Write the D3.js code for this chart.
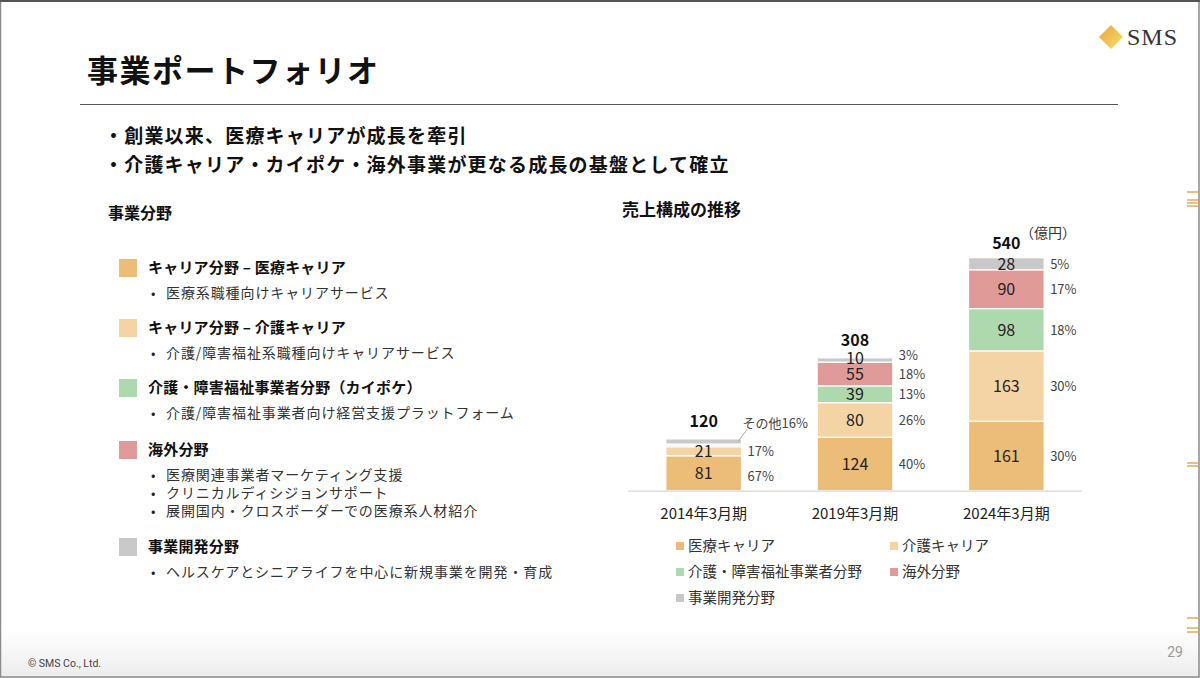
<!DOCTYPE html>
<html>
<head>
<meta charset="utf-8">
<script src="https://cdn.jsdelivr.net/npm/d3@7"></script>
<style>
  body { margin: 0; background: #fff; }
  svg { display: block; font-family: "Noto Sans CJK JP", "Noto Sans", sans-serif; }
</style>
</head>
<body>
<svg id="chart" width="1200" height="678"></svg>
<script>
// periods and series (億円)
const periods = ["2014年3月期", "2019年3月期", "2024年3月期"];
const seriesNames = ["医療キャリア", "介護キャリア", "介護・障害福祉事業者分野", "海外分野", "事業開発分野"];
const seriesColors = ["#ECBD78", "#F4D4A4", "#AED8AE", "#E09A97", "#C9C9C9"];
const medical = [81, 124, 161];
const nursing = [21, 80, 163];
const kaipoke = [4, 39, 98];
const overseas = [2, 55, 90];
const newBiz = [12, 10, 28];
const totals = [120, 308, 540];
// share labels shown next to the bars (null = not shown)
const sharePct = [
  [67, 17, null, null, null],
  [40, 26, 13, 18, 3],
  [30, 30, 18, 17, 5]
];
const othersLabel = "その他16%"; // 2014 only

// left side description list
const segments = [
  { title: "キャリア分野 – 医療キャリア", items: ["医療系職種向けキャリアサービス"] },
  { title: "キャリア分野 – 介護キャリア", items: ["介護/障害福祉系職種向けキャリアサービス"] },
  { title: "介護・障害福祉事業者分野（カイポケ）", items: ["介護/障害福祉事業者向け経営支援プラットフォーム"] },
  { title: "海外分野", items: ["医療関連事業者マーケティング支援", "クリニカルディシジョンサポート", "展開国内・クロスボーダーでの医療系人材紹介"] },
  { title: "事業開発分野", items: ["ヘルスケアとシニアライフを中心に新規事業を開発・育成"] }
];

const svg = d3.select("#chart");

/////////////// slide frame ///////////////
const defs = svg.append("defs");
const fade = defs.append("linearGradient").attr("id", "bottomFade")
  .attr("x1", 0).attr("y1", 0).attr("x2", 0).attr("y2", 1);
fade.append("stop").attr("offset", "0%").attr("stop-color", "#fff");
fade.append("stop").attr("offset", "100%").attr("stop-color", "#ececec");
svg.append("rect").attr("x", 0).attr("y", 630).attr("width", 1200).attr("height", 48).attr("fill", "url(#bottomFade)");

const logoGrad = defs.append("linearGradient").attr("id", "logoGrad")
  .attr("x1", 0).attr("y1", 0).attr("x2", 1).attr("y2", 1);
logoGrad.append("stop").attr("offset", "0%").attr("stop-color", "#E9A43C");
logoGrad.append("stop").attr("offset", "100%").attr("stop-color", "#F7DF6A");

svg.append("rect").attr("x", 0.5).attr("y", 0.5).attr("width", 1198.5).attr("height", 676.5)
  .attr("fill", "none").attr("stroke", "#8a8a8a").attr("stroke-width", 1.5);
svg.append("line").attr("x1", 0).attr("x2", 1200).attr("y1", 1).attr("y2", 1)
  .attr("stroke", "#555").attr("stroke-width", 2);

// logo
svg.append("path").attr("d", "M1111,25 L1123,37 L1111,49 L1099,37 Z").attr("fill", "url(#logoGrad)");
svg.append("text").attr("x", 1127).attr("y", 45).attr("font-family", "Liberation Serif, DejaVu Serif, serif")
  .attr("font-size", 24).attr("letter-spacing", 1).attr("fill", "#333").text("SMS");

// orange marks on the right edge
[192, 200, 203, 206, 463, 466, 618, 628, 632].forEach(y => {
  svg.append("line").attr("x1", 1187).attr("x2", 1199).attr("y1", y).attr("y2", y)
    .attr("stroke", "#D9A046").attr("stroke-width", 1.3);
});

// title and rule
svg.append("text").attr("x", 87).attr("y", 82).attr("font-size", 31).attr("letter-spacing", 1.5)
  .attr("font-weight", "bold").attr("fill", "#111").text("事業ポートフォリオ");
svg.append("line").attr("x1", 80).attr("x2", 1118).attr("y1", 104.5).attr("y2", 104.5)
  .attr("stroke", "#555").attr("stroke-width", 1);

// key messages
["・創業以来、医療キャリアが成長を牽引", "・介護キャリア・カイポケ・海外事業が更なる成長の基盤として確立"]
  .forEach((t, i) => {
    svg.append("text").attr("x", 104).attr("y", 143 + i * 29).attr("font-size", 19)
      .attr("letter-spacing", 1.2).attr("font-weight", "bold").attr("fill", "#111").text(t);
  });

// section headings
svg.append("text").attr("x", 108).attr("y", 219).attr("font-size", 16).attr("font-weight", "bold")
  .attr("fill", "#111").text("事業分野");
svg.append("text").attr("x", 622).attr("y", 216).attr("font-size", 17).attr("font-weight", "bold")
  .attr("fill", "#111").text("売上構成の推移");

// footer
svg.append("text").attr("x", 28).attr("y", 667).attr("font-family", "Roboto, Liberation Sans, sans-serif")
  .attr("font-size", 10.5).attr("fill", "#444").text("© SMS Co., Ltd.");
svg.append("text").attr("x", 1183).attr("y", 657).attr("text-anchor", "end")
  .attr("font-family", "Roboto, Liberation Sans, sans-serif")
  .attr("font-size", 14).attr("fill", "#999").text("29");

/////////////// left: segment list ///////////////
const headY = [268, 328, 388, 450, 547];
segments.forEach((s, i) => {
  const g = svg.append("g").attr("transform", `translate(0, ${headY[i]})`);
  g.append("rect").attr("x", 119).attr("y", -9).attr("width", 18).attr("height", 18)
    .attr("fill", seriesColors[i]);
  g.append("text").attr("x", 148).attr("y", 5).attr("font-size", 15).attr("letter-spacing", 0.2)
    .attr("font-weight", "bold").attr("fill", "#111").text(s.title);
  s.items.forEach((it, j) => {
    g.append("text").attr("x", 151).attr("y", 30 + j * 18).attr("font-size", 13).attr("fill", "#222").text("•");
    g.append("text").attr("x", 166).attr("y", 30 + j * 18).attr("font-size", 14).attr("letter-spacing", 0.9)
      .attr("fill", "#333").text(it);
  });
});

/////////////// right: stacked bars ///////////////
const rows = periods.map((p, i) => ({
  period: p, idx: i,
  s0: medical[i], s1: nursing[i], s2: kaipoke[i], s3: overseas[i], s4: newBiz[i]
}));
const keys = ["s0", "s1", "s2", "s3", "s4"];
const stacked = d3.stack().keys(keys)(rows);

const x = d3.scaleBand().domain(periods).range([628, 1082]).paddingInner(0.5).paddingOuter(0.25);
const y = d3.scaleLinear().domain([0, 540]).range([490.7, 257.7]);

const layers = svg.append("g").selectAll("g").data(stacked).enter().append("g")
  .attr("fill", (d, i) => seriesColors[i]);

layers.selectAll("rect").data(d => d).enter().append("rect")
  .attr("x", d => x(d.data.period))
  .attr("y", d => y(d[1]))
  .attr("width", x.bandwidth())
  .attr("height", d => y(d[0]) - y(d[1]))
  .attr("stroke", "#fff").attr("stroke-width", 1.2);

// baseline
svg.append("line").attr("x1", 628).attr("x2", 1082).attr("y1", y(0) + 0.5).attr("y2", y(0) + 0.5)
  .attr("stroke", "#d6d6d6").attr("stroke-width", 1.2);

// value labels inside segments (2014 small segments are merged as その他)
periods.forEach((p, i) => {
  let lastPct = Infinity; // y of the previous % label, going up the bar
  stacked.forEach((layer, k) => {
    const d = layer[i];
    if (i === 0 && k >= 2) return;
    const mid = (y(d[0]) + y(d[1])) / 2;
    // thin top segment: lift the label a little so it doesn't run into the one below
    const lift = (y(d[0]) - y(d[1]) < 8) ? -2 : 0;
    svg.append("text").attr("x", x(p) + x.bandwidth() / 2)
      .attr("y", mid + 6 + lift)
      .attr("text-anchor", "middle").attr("font-size", 16).attr("fill", "#222")
      .text(d[1] - d[0]);
    const pct = sharePct[i][k];
    if (pct != null) {
      let py = Math.min(mid + 5, lastPct - 19);
      if (i === 0 && k === 0) py += 3;
      lastPct = py;
      svg.append("text").attr("x", x(p) + x.bandwidth() + 6)
        .attr("y", py)
        .attr("font-size", 13).attr("fill", "#444").text(pct + "%");
    }
  });
});

// totals (the tallest one sits closer to its bar, as on the slide)
periods.forEach((p, i) => {
  svg.append("text").attr("x", x(p) + x.bandwidth() / 2).attr("y", Math.max(y(totals[i]) - 12, 249))
    .attr("text-anchor", "middle").attr("font-size", 16).attr("font-weight", "bold")
    .attr("fill", "#111").text(totals[i]);
});

// その他 callout for 2014
const otherTop = y(totals[0]);
svg.append("line").attr("x1", x(periods[0]) + x.bandwidth() - 3).attr("y1", otherTop + 2)
  .attr("x2", x(periods[0]) + x.bandwidth() + 6).attr("y2", otherTop - 10)
  .attr("stroke", "#aaa").attr("stroke-width", 1);
svg.append("text").attr("x", x(periods[0]) + x.bandwidth() + 1).attr("y", otherTop - 11)
  .attr("font-size", 13).attr("fill", "#444").text(othersLabel);

// unit
svg.append("text").attr("x", 1076).attr("y", 238).attr("text-anchor", "end")
  .attr("font-size", 14).attr("fill", "#333").text("（億円）");

// x axis labels
svg.append("g").selectAll("text").data(periods).enter().append("text")
  .attr("x", d => x(d) + x.bandwidth() / 2).attr("y", 519)
  .attr("text-anchor", "middle").attr("font-size", 15).attr("fill", "#222")
  .text(d => d);

// legend
const legPos = [[676, 546], [890, 546], [676, 572], [890, 572], [676, 598]];
seriesNames.forEach((n, i) => {
  const g = svg.append("g").attr("transform", `translate(${legPos[i][0]}, ${legPos[i][1]})`);
  g.append("rect").attr("x", 0).attr("y", -4).attr("width", 8).attr("height", 8).attr("fill", seriesColors[i]);
  g.append("text").attr("x", 12).attr("y", 5).attr("font-size", 14.5).attr("fill", "#333").text(n);
});
</script>
</body>
</html>
